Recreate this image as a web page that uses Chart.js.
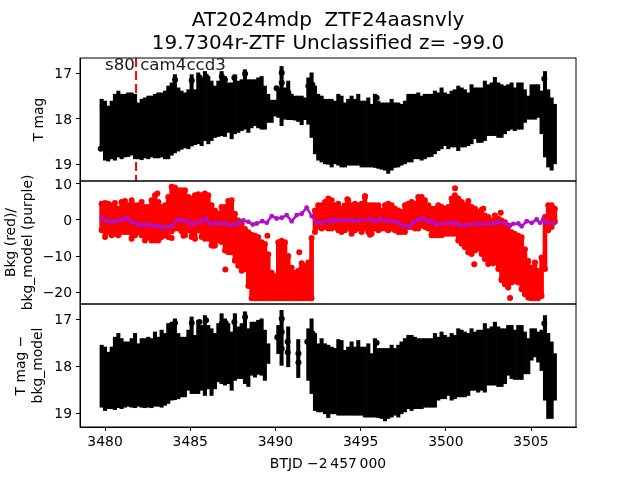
<!DOCTYPE html>
<html>
<head>
<meta charset="utf-8">
<script src="https://cdn.jsdelivr.net/npm/chart.js@4"></script>
<style>
body { margin: 0; background: #fff; }
</style>
</head>
<body>
<canvas id="chart" width="640" height="480"></canvas>
<script>
const titleLines = ["AT2024mdp  ZTF24aasnvly", "19.7304r-ZTF Unclassified z= -99.0"];
const sectorLabel = "s80 cam4ccd3";
const markerTime = 3481.82;

const times = [
	3479.80,3480.00,3480.19,3480.39,3480.58,3480.78,3480.97,3481.17,3481.36,3481.56,
	3481.76,3481.95,3482.15,3482.34,3482.54,3482.73,3482.93,3483.13,3483.32,3483.52,
	3483.71,3483.91,3484.10,3484.30,3484.49,3484.69,3484.89,3485.08,3485.28,3485.47,
	3485.67,3485.86,3486.06,3486.25,3486.45,3486.65,3486.84,3487.04,3487.23,3487.43,
	3487.62,3487.82,3488.02,3488.21,3488.41,3488.60,3488.80,3488.99,3489.19,3489.38,
	3489.58,3489.78,3489.97,3490.17,3490.36,3490.56,3490.75,3490.95,3491.15,3491.34,
	3491.54,3491.73,3491.93,3492.12,3492.32,3492.51,3492.71,3492.91,3493.10,3493.30,
	3493.49,3493.69,3493.88,3494.08,3494.27,3494.47,3494.67,3494.86,3495.06,3495.25,
	3495.45,3495.64,3495.84,3496.04,3496.23,3496.43,3496.62,3496.82,3497.01,3497.21,
	3497.40,3497.60,3497.80,3497.99,3498.19,3498.38,3498.58,3498.77,3498.97,3499.16,
	3499.36,3499.56,3499.75,3499.95,3500.14,3500.34,3500.53,3500.73,3500.93,3501.12,
	3501.32,3501.51,3501.71,3501.90,3502.10,3502.29,3502.49,3502.69,3502.88,3503.08,
	3503.27,3503.47,3503.66,3503.86,3504.05,3504.25,3504.45,3504.64,3504.84,3505.03,
	3505.23,3505.42,3505.62,3505.82,3506.01,3506.21,3506.40
];

// top panel: bright and faint edge of the error bars per column
const magBright = [
	17.57,17.61,17.72,17.61,17.46,17.39,17.46,17.46,17.43,17.43,
	17.46,17.65,17.57,17.54,17.50,17.50,17.46,17.43,17.43,17.39,
	17.28,17.21,17.03,17.32,17.39,17.43,17.36,17.03,17.36,16.99,
	17.10,16.96,17.07,17.17,17.28,17.17,16.96,17.07,17.21,17.21,
	17.03,17.17,17.14,16.92,17.14,17.14,17.14,17.10,17.07,17.28,
	17.46,17.59,17.59,17.32,16.85,17.32,17.17,17.46,17.50,17.50,
	17.50,17.54,17.10,16.99,17.28,17.46,17.50,17.57,17.57,17.57,
	17.61,17.46,17.50,17.65,17.57,17.50,17.57,17.46,17.61,17.61,
	17.54,17.68,17.46,17.61,17.65,17.65,17.65,17.57,17.65,17.65,
	17.68,17.61,17.46,17.46,17.46,17.43,17.50,17.46,17.46,17.46,
	17.39,17.43,17.32,17.43,17.46,17.39,17.36,17.28,17.32,17.36,
	17.43,17.25,17.32,17.32,17.32,17.17,17.25,17.21,17.09,17.21,
	17.25,17.28,17.25,17.21,17.32,17.21,17.21,17.36,17.50,17.25,
	17.25,17.25,17.39,16.96,17.36,17.54,17.68
];
const magFaint = [
	18.70,18.91,18.93,18.88,18.91,18.84,18.88,18.84,18.83,18.80,
	18.88,18.88,18.90,18.86,18.88,18.84,18.86,18.86,18.84,18.88,
	18.88,18.80,18.75,18.71,18.67,18.64,18.66,18.60,18.57,18.55,
	18.59,18.48,18.55,18.48,18.41,18.39,18.37,18.39,18.30,18.44,
	18.33,18.30,18.26,18.23,18.30,18.20,18.15,18.20,18.23,18.23,
	18.08,18.08,17.94,17.97,18.15,18.01,18.02,18.02,18.03,18.06,
	18.13,18.02,18.12,18.41,18.77,18.91,18.95,18.99,19.00,19.06,
	18.99,19.02,19.06,19.06,19.02,19.02,19.02,19.02,19.06,19.06,
	19.06,19.06,19.07,19.09,19.11,19.13,19.20,19.13,19.07,19.06,
	19.02,18.99,18.95,18.95,18.88,18.88,18.91,18.88,18.84,18.83,
	18.77,18.70,18.66,18.59,18.66,18.62,18.62,18.70,18.62,18.62,
	18.59,18.55,18.44,18.52,18.52,18.48,18.37,18.37,18.37,18.41,
	18.41,18.33,18.26,18.23,18.26,18.23,18.23,18.08,18.01,18.01,
	18.01,17.97,18.33,18.84,19.06,19.13,18.99
];
const spikeTimes = [3479.75,3479.86,3484.11,3485.09,3485.54,3485.93,3486.85,3487.04,3487.59,3488.22,3490.07,3490.37,3490.37,3490.76,3491.93,3492.17,3495.94,3505.78];
const spikeMags = [18.66,17.72,17.14,17.16,17.09,17.07,17.07,17.14,17.10,17.01,17.33,16.99,17.21,17.43,17.28,17.25,17.54,17.12];

// middle panel: background, top and bottom of the red cloud per column
const bkgHigh = [
	4.53,4.71,4.53,4.06,4.71,3.13,5.00,5.27,4.06,5.46,
	4.06,4.06,5.00,3.60,3.60,5.46,6.86,5.00,3.60,4.06,
	6.40,9.20,9.00,8.26,8.26,8.26,6.40,5.93,6.86,7.14,
	6.86,7.33,6.86,4.06,2.66,1.72,3.60,3.60,5.27,5.46,
	1.72,-0.14,-1.08,-2.48,-3.41,-4.07,-4.35,-4.81,-6.20,-6.68,
	-9.48,-14.6,-15.55,-6.20,-5.75,-6.20,-9.95,-13.2,-14.6,-14.15,
	-13.2,-12.75,-11.8,-5.0,2.66,4.06,4.06,5.00,5.93,5.46,
	4.06,4.53,3.13,4.06,5.46,4.06,4.53,4.06,4.53,6.40,
	4.06,4.06,4.06,4.06,2.66,4.06,4.53,4.06,3.13,2.66,
	2.20,4.06,4.53,5.00,4.53,6.40,6.40,5.46,4.06,3.13,
	3.13,4.06,3.60,3.13,3.60,5.93,6.86,5.93,5.00,4.06,
	5.27,3.60,3.13,2.20,2.85,1.26,0.80,-0.14,1.26,0.33,
	-0.14,-0.60,-1.54,-3.41,-3.88,-4.35,-4.81,-8.08,-11.35,-13.2,
	-11.8,-14.15,-10.4,0.80,4.06,4.06,3.13
];
const bkgLow = [
	-2.85,-4.72,-3.32,-4.25,-3.79,-4.25,-3.32,-3.32,-3.32,-5.19,
	-4.25,-3.32,-4.25,-5.65,-4.72,-5.65,-5.65,-5.65,-4.72,-4.25,
	-4.72,-3.13,-2.39,-2.39,-3.13,-4.25,-2.85,-4.72,-5.19,-2.85,
	-4.72,-5.19,-5.19,-7.06,-7.06,-5.65,-6.12,-8.46,-8.92,-8.92,
	-11.26,-12.66,-14.06,-13.6,-18.26,-21.7,-21.7,-21.7,-21.7,-21.7,
	-21.7,-21.7,-21.7,-21.7,-21.7,-21.7,-21.7,-21.7,-21.7,-21.7,
	-21.7,-21.7,-21.7,-21.7,-3.32,-1.92,-2.39,-1.92,-2.39,-2.39,
	-1.92,-2.85,-3.32,-2.85,-2.39,-3.79,-2.85,-2.39,-3.32,-2.39,
	-3.32,-3.79,-2.39,-2.85,-2.39,-2.39,-2.85,-2.39,-2.85,-3.32,
	-3.32,-3.32,-1.92,-1.92,-2.39,-2.39,-1.46,-1.92,-2.39,-4.25,
	-4.25,-4.25,-4.25,-3.79,-3.79,-3.79,-3.79,-5.65,-6.59,-7.52,
	-8.92,-9.39,-8.46,-7.99,-9.39,-10.8,-12.2,-11.73,-11.73,-13.6,
	-16.4,-17.8,-18.73,-17.33,-16.87,-17.33,-19.2,-20.6,-21.53,-21.7,
	-21.7,-21.7,-21.06,-13.6,-2.85,-1.92,-0.52
];
const bkgOutlierTimes = [3483.07,3483.91,3484.60,3486.36,3487.06,3489.53,3491.40,3491.54,3494.22,3495.26,3495.55,3500.54,3501.67,3502.20,3502.53,3502.78,3503.22,3503.28,3503.77];
const bkgOutliers = [7.33,-5.00,-4.34,-7.14,-13.68,-4.34,-8.92,-12.00,5.74,6.67,-4.06,8.82,-12.28,3.13,-12.00,-12.00,2.00,-16.67,-21.60];

const modelTimes = [
	3479.80,3480.10,3480.39,3480.68,3480.98,3481.27,3481.57,3481.86,3482.15,3482.45,
	3482.74,3483.03,3483.33,3483.62,3483.91,3484.21,3484.50,3484.79,3485.09,3485.38,
	3485.67,3485.93,3486.12,3486.46,3486.75,3487.04,3487.34,3487.63,3487.88,3488.12,
	3488.41,3488.67,3488.90,3489.23,3489.49,3489.78,3490.07,3490.37,3490.66,3490.95,
	3491.25,3491.54,3491.83,3492.13,3492.42,3492.71,3493.10,3493.50,
	3493.40,3493.79,3494.18,3494.57,3494.96,3495.55,3495.85,3496.14,3496.53,3496.92,
	3497.21,3497.51,3497.86,3498.09,3498.39,3498.68,3498.97,3499.17,3499.46,3499.85,
	3500.25,3500.60,3500.83,3501.22,3501.62,3502.01,3502.40,3502.79,3503.08,3503.47,
	3503.77,3503.96,3504.26,3504.45,3504.75,3505.04,3505.33,3505.53,3505.72,3505.92,3506.35
];
const modelValues = [
	0.33,-0.14,-0.51,-0.14,-0.14,0.61,-0.51,-1.07,-1.45,-1.26,
	-1.54,-1.73,-2.01,-2.01,-1.73,-0.14,-0.05,-0.33,-1.26,-0.79,
	-0.14,0.33,-1.07,-0.79,-0.98,-0.98,-1.45,-1.26,-0.79,-0.14,
	-0.51,-1.26,-0.98,-0.33,-0.79,1.07,0.42,0.61,1.35,-0.33,
	1.35,1.73,3.41,1.07,-0.79,-0.79,-0.14,-0.33,
	-0.05,-0.05,-0.05,-0.23,-0.14,0.23,-0.33,0.14,-0.14,-0.33,
	-0.79,-1.63,-1.73,-0.61,-0.05,0.42,-0.51,-0.33,-1.26,-0.98,
	-0.89,-0.79,-1.45,-1.45,-1.07,-1.17,-1.07,-0.98,-0.61,-0.98,
	-1.54,-1.07,-0.98,-1.73,-0.33,-0.79,0.14,-0.79,0.14,-0.79,-0.89
];

// bottom panel: same columns as the top one, gaps where no bar is there
const subBright = [
	17.55,17.59,17.70,17.59,17.38,17.30,17.41,17.48,17.48,17.41,
	17.30,17.52,17.41,17.41,17.38,17.41,17.27,17.38,17.23,17.30,
	17.09,17.06,16.99,17.30,17.38,17.38,17.23,16.95,17.34,17.02,
	17.13,16.92,17.13,17.20,17.30,17.09,16.88,16.99,17.09,17.27,
	16.88,17.16,17.09,16.84,17.20,17.06,17.06,17.02,16.99,17.23,
	17.52,null,null,17.13,16.81,null,17.16,null,null,17.43,
	null,null,17.20,16.99,17.30,17.52,17.41,17.52,17.55,17.59,
	17.62,17.43,17.45,17.66,17.59,17.48,17.59,17.45,17.59,17.59,
	17.52,17.73,17.41,17.62,17.62,17.62,17.62,17.55,17.62,17.55,
	17.48,17.41,17.34,17.34,17.38,17.41,17.41,17.41,17.41,17.41,
	17.30,17.38,17.27,17.34,17.38,17.30,17.34,17.20,17.23,17.27,
	17.30,17.20,17.27,17.23,17.23,17.09,17.20,17.16,17.06,17.16,
	17.20,17.20,17.13,17.13,17.23,17.13,17.13,17.27,17.41,17.20,
	17.20,17.27,17.23,16.92,17.30,17.48,17.73
];
const subFaint = [
	18.87,18.94,18.90,18.90,18.92,18.88,18.90,18.87,18.85,18.87,
	18.88,18.85,18.87,18.88,18.87,18.88,18.85,18.85,18.87,18.83,
	18.79,18.72,18.71,18.69,18.65,18.65,18.51,18.58,18.58,18.58,
	18.51,18.62,18.48,18.62,18.48,18.33,18.37,18.40,18.37,18.51,
	18.30,18.26,18.26,18.37,18.43,18.19,18.23,18.17,18.19,18.30,
	17.94,null,null,17.73,17.98,null,18.01,null,null,18.24,
	null,null,18.30,18.58,18.94,18.97,18.97,19.01,19.09,19.01,
	19.01,19.04,19.04,19.04,19.04,19.04,19.04,19.04,19.04,19.08,
	19.08,19.08,19.08,19.09,19.11,19.16,19.11,19.08,19.04,19.08,
	19.01,18.97,18.90,18.94,18.90,18.90,18.90,18.87,18.87,18.87,
	18.87,18.72,18.69,18.69,18.62,18.72,18.69,18.65,18.65,18.65,
	18.62,18.51,18.51,18.55,18.51,18.55,18.40,18.40,18.40,18.43,
	18.43,18.37,18.19,18.26,18.28,18.28,18.28,18.16,18.16,17.87,
	17.80,17.91,18.09,18.72,19.11,19.11,18.72
];
const subSpikeTimes = [3479.90,3484.11,3485.09,3485.54,3485.93,3486.85,3487.08,3487.59,3488.22,3490.11,3490.37,3490.37,3490.37,3490.72,3490.72,3491.35,3491.35,3491.87,3492.17,3495.94,3504.94,3505.78];
const subSpikeMags = [17.73,17.08,17.08,17.06,17.02,17.09,17.08,17.06,16.95,17.38,16.99,17.27,17.62,17.48,17.70,17.73,17.92,17.48,17.30,17.50,17.80,17.09];

const xTickStep = 5;
const magTickStep = 1;
const bkgTickStep = 10;

const FONT = "'DejaVu Sans'";
const BLACK = "#000000";
const RED = "#ff0000";
const PURPLE = "#b010c8";

function bars(hi, lo) {
	let out = [];
	for (let i = 0; i < times.length; i++) {
		if (hi[i] === null) continue;
		out.push({ x: times[i], y: [lo[i], hi[i]] });
	}
	return out;
}

function points(xs, ys) {
	return xs.map((x, i) => ({ x: x, y: ys[i] }));
}

function barSet(data, axis, color, width, order) {
	return { type: "bar", data: data, yAxisID: axis, backgroundColor: color, barThickness: width, grouped: false, order: order };
}

function dotSet(data, axis, color, radius, order) {
	return { type: "scatter", data: data, yAxisID: axis, backgroundColor: color, borderColor: color, pointRadius: radius, pointBorderWidth: 0, showLine: false, order: order };
}

function yAxis(cfg) {
	return {
		type: "linear",
		position: "left",
		stack: "panels",
		stackWeight: 1,
		reverse: cfg.reverse,
		min: cfg.min,
		max: cfg.max,
		afterFit: s => { s.width = 80; },
		border: { color: BLACK, width: 1 },
		grid: { drawOnChartArea: false, tickColor: BLACK, tickLength: 4, offset: false },
		ticks: {
			stepSize: cfg.step,
			includeBounds: false,
			color: BLACK,
			padding: 4,
			font: { family: FONT, size: 13.9 },
			callback: v => String(v).replace("-", "\u2212")
		},
		title: {
			display: true,
			text: cfg.label,
			color: BLACK,
			font: { family: FONT, size: 13.9, lineHeight: 1.2 },
			padding: { top: cfg.labelPad, bottom: 0 }
		}
	};
}

// box round each panel, the sector text, and digits centred on their tick
const panelFrame = {
	id: "panelFrame",
	beforeDraw(chart) {
		for (let id of ["yTop", "yMid", "ySub"]) {
			for (let item of chart.scales[id].getLabelItems()) {
				if (item.moved) continue;
				item.options.translation[1] += 1.3;
				item.moved = true;
			}
		}
	},
	afterDraw(chart) {
		let c = chart.ctx;
		let x = chart.scales.x;
		c.save();
		c.strokeStyle = BLACK;
		c.lineWidth = 1;
		for (let id of ["yTop", "yMid", "ySub"]) {
			let s = chart.scales[id];
			c.strokeRect(x.left, s.top, x.right - x.left, s.bottom - s.top);
		}
		c.fillStyle = "#1a1a1a";
		c.font = "16.67px " + FONT;
		c.textBaseline = "alphabetic";
		c.fillText(sectorLabel, x.getPixelForValue(3480), chart.scales.yTop.getPixelForValue(16.93));
		c.restore();
	}
};

new Chart("chart", {
	data: {
		datasets: [
			{
				type: "scatter",
				data: [{ x: markerTime, y: 16.664 }, { x: markerTime, y: 19.367 }],
				yAxisID: "yTop",
				showLine: true,
				borderColor: RED,
				borderWidth: 2,
				borderDash: [9, 4],
				pointRadius: 0,
				order: 6
			},
			barSet(bars(magBright, magFaint), "yTop", BLACK, 3.4, 3),
			dotSet(points(spikeTimes, spikeMags), "yTop", BLACK, 3, 2),
			barSet(bars(bkgHigh, bkgLow), "yMid", RED, 4, 5),
			dotSet(points(times, bkgHigh), "yMid", RED, 3, 4),
			dotSet(points(times, bkgLow), "yMid", RED, 3, 4),
			dotSet(points(bkgOutlierTimes, bkgOutliers), "yMid", RED, 3, 4),
			{
				type: "scatter",
				data: points(modelTimes, modelValues).sort((a, b) => a.x - b.x),
				yAxisID: "yMid",
				showLine: true,
				borderColor: PURPLE,
				backgroundColor: PURPLE,
				borderWidth: 2.5,
				pointRadius: 1.2,
				order: 1
			},
			barSet(bars(subBright, subFaint), "ySub", BLACK, 3.4, 3),
			dotSet(points(subSpikeTimes, subSpikeMags), "ySub", BLACK, 3, 2)
		]
	},
	options: {
		responsive: false,
		animation: false,
		layout: { padding: { left: 0, right: 64, top: 0, bottom: 0 } },
		plugins: {
			legend: { display: false },
			tooltip: { enabled: false },
			title: {
				display: true,
				fullSize: false,
				text: titleLines,
				color: BLACK,
				font: { family: FONT, size: 20, weight: "normal", lineHeight: 1.115 },
				padding: { top: 10, bottom: 3.4 }
			}
		},
		scales: {
			x: {
				type: "linear",
				position: "bottom",
				min: 3478.53,
				max: 3507.64,
				afterFit: s => { s.height = 53; },
				offset: false,
				border: { color: BLACK, width: 1 },
				grid: { drawOnChartArea: false, tickColor: BLACK, tickLength: 4, offset: false },
				ticks: {
					stepSize: xTickStep,
					includeBounds: false,
					autoSkip: false,
					maxRotation: 0,
					color: BLACK,
					padding: 3,
					font: { family: FONT, size: 13.9 },
					callback: v => String(v)
				},
				title: {
					display: true,
					text: "BTJD \u22122\u2009457\u2009000",
					color: BLACK,
					font: { family: FONT, size: 13.9, lineHeight: 1.2 },
					padding: { top: 0, bottom: 7 }
				}
			},
			ySub: yAxis({ reverse: true, min: 16.675, max: 19.29, step: magTickStep, label: ["T mag \u2212", "bkg_model"], labelPad: 13 }),
			yMid: yAxis({ reverse: false, min: -23.27, max: 10.8, step: bkgTickStep, label: ["Bkg (red)/", "bkg_model (purple)"], labelPad: 3 }),
			yTop: yAxis({ reverse: true, min: 16.664, max: 19.367, step: magTickStep, label: "T mag", labelPad: 31 })
		}
	},
	plugins: [panelFrame]
});
</script>
</body>
</html>
